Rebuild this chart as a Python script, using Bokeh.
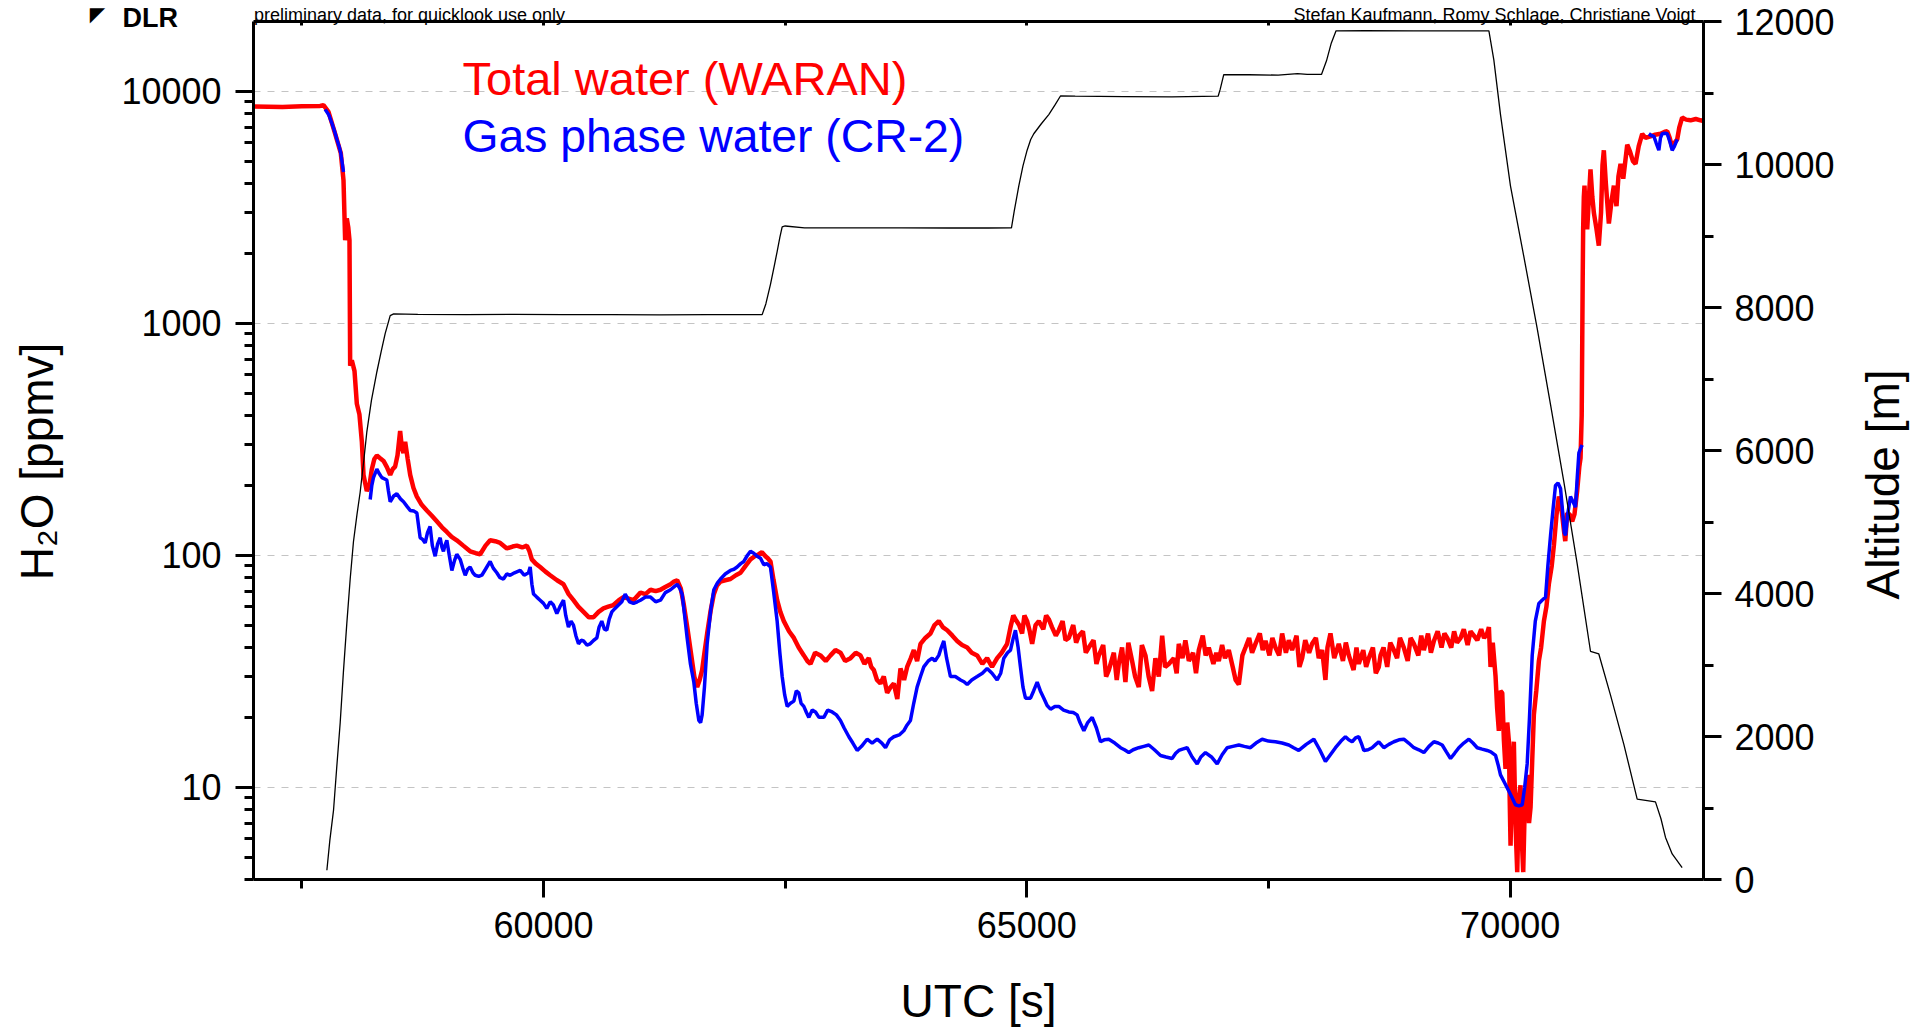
import math
from bokeh.plotting import figure
from bokeh.models import (Range1d, LinearAxis, LinearScale, FixedTicker, NumeralTickFormatter,
                          Label)
from bokeh.embed import file_html
from bokeh.resources import INLINE

# ---------------- data ----------------
red_x = [57000, 57300, 57500, 57690, 57724, 57776, 57845, 57903, 57931, 57948, 57965, 57980, 57993,
         58000, 58017, 58045, 58069, 58096, 58121, 58138, 58172, 58200, 58224, 58250, 58276, 58310,
         58345, 58380, 58414, 58440, 58465, 58490, 58517, 58535, 58552, 58569, 58595, 58621, 58655,
         58690, 58740, 58793, 58845, 58896, 58950, 59000, 59050, 59103, 59170, 59241, 59300, 59345,
         59400, 59448, 59500, 59552, 59621, 59680, 59724, 59780, 59828, 59855, 59879, 59920, 59965,
         60020, 60069, 60140, 60207, 60260, 60310, 60360, 60414, 60470, 60517, 60570, 60620, 60670,
         60724, 60780, 60827, 60880, 60931, 61003, 61055, 61107, 61160, 61210, 61260, 61314, 61350,
         61383, 61420, 61452, 61490, 61521, 61560, 61590, 61615, 61641, 61665, 61693, 61730, 61762,
         61795, 61831, 61880, 61934, 61990, 62038, 62090, 62141, 62185, 62227, 62260, 62296, 62320,
         62348, 62380, 62417, 62450, 62486, 62540, 62590, 62640, 62693, 62730, 62762, 62810, 62865,
         62920, 62969, 63020, 63072, 63120, 63176, 63230, 63279, 63320, 63365, 63390, 63417, 63450,
         63486, 63520, 63555, 63590, 63624, 63660, 63693, 63730, 63762, 63800, 63831, 63865, 63900,
         63950, 64003, 64045, 64089, 64130, 64176, 64230, 64279, 64330, 64383, 64430, 64486, 64540,
         64589, 64640, 64693, 64740, 64796, 64831, 64860, 64882, 64920, 64951, 64975, 65003, 65030,
         65055, 65090, 65124, 65170, 65200, 65227, 65260, 65300, 65331, 65370, 65400, 65434, 65480,
         65510, 65538, 65580, 65610, 65641, 65690, 65720, 65745, 65790, 65820, 65848, 65900, 65930,
         65951, 65985, 66020, 66050, 66089, 66120, 66158, 66190, 66227, 66260, 66296, 66330, 66365,
         66400, 66430, 66469, 66520, 66550, 66572, 66610, 66640, 66676, 66720, 66750, 66779, 66820,
         66850, 66882, 66930, 66960, 66986, 67020, 67050, 67089, 67130, 67160, 67193, 67230, 67262,
         67300, 67330, 67365, 67410, 67440, 67469, 67510, 67540, 67572, 67610, 67641, 67680, 67710,
         67744, 67790, 67820, 67848, 67880, 67920, 67951, 67990, 68020, 68055, 68089, 68110, 68141,
         68180, 68227, 68270, 68300, 68331, 68380, 68410, 68434, 68480, 68510, 68538, 68580, 68610,
         68641, 68659, 68690, 68728, 68760, 68797, 68830, 68860, 68900, 68940, 68970, 69004, 69050,
         69080, 69107, 69150, 69180, 69211, 69250, 69290, 69320, 69349, 69390, 69420, 69450, 69487,
         69520, 69560, 69590, 69625, 69660, 69700, 69730, 69762, 69780, 69797, 69820, 69849, 69865,
         69883, 69900, 69918, 69935, 69952, 69970, 69987, 69995, 70004, 70020, 70038, 70055, 70073,
         70090, 70107, 70120, 70135, 70150, 70176, 70195, 70211, 70228, 70245, 70270, 70297, 70320,
         70349, 70375, 70400, 70430, 70452, 70480, 70504, 70530, 70555, 70570, 70590, 70615, 70642,
         70665, 70693, 70715, 70728, 70740, 70745, 70750, 70755, 70762, 70769, 70780, 70797, 70815,
         70831, 70850, 70866, 70890, 70917, 70940, 70955, 70969, 70990, 71021, 71050, 71073, 71100,
         71120, 71142, 71170, 71211, 71240, 71270, 71297, 71330, 71366, 71400, 71452, 71500, 71556,
         71600, 71625, 71650, 71676, 71700, 71728, 71750, 71779, 71820, 71866, 71920, 71969, 72000]
red_y = [8600, 8560, 8620, 8650, 8720, 8150, 6560, 5420, 4140, 2280, 2830, 2600, 2280,
         656, 693, 622, 450, 404, 308, 222, 189, 200, 235, 260, 269, 262,
         255, 240, 222, 235, 241, 270, 343, 290, 276, 308, 260, 222, 195,
         179, 165, 156, 148, 140, 132, 126, 120, 116, 110, 104, 102, 101,
         110, 116, 115, 113, 107, 109, 110, 108, 110, 104, 96, 92, 89,
         85, 82, 78, 75, 68, 64, 60, 57, 54, 54, 57, 59, 60,
         61, 64, 66, 65, 64, 69, 68, 71, 70, 71, 73, 75, 77,
         78, 72, 61, 48, 39, 30, 27, 29, 32, 38, 46, 58, 68,
         74, 77, 78, 79, 82, 84, 90, 96, 99, 101, 103, 99, 97,
         94, 78, 64, 57, 52, 47, 44, 40, 37, 35, 34, 38, 37,
         35, 37, 39, 38, 35, 36, 38, 37, 34, 36, 33, 32, 29,
         28, 30, 25.5, 27, 28, 24, 32.5, 29, 33, 36, 39, 35, 41.5,
         44, 46, 50, 52, 49, 47.5, 45, 42.7, 41, 40, 38, 37, 34,
         36, 33, 36, 38, 41.5, 49, 55, 53, 50, 46, 55, 52, 47,
         41.5, 50, 52, 48, 55, 53, 49, 45, 47.5, 52, 43, 44, 50,
         42, 45, 47, 38, 40, 43, 34, 37, 41, 30, 32, 38, 29,
         34, 40, 28.4, 42, 35, 30, 27, 41, 37, 30, 26, 36, 30,
         45, 33, 34, 36, 31, 41.5, 36, 43, 35, 38, 31, 39, 45,
         37, 40, 34, 38, 35, 41, 36, 39, 33, 29, 27.7, 37, 40,
         44, 38, 41.5, 46, 39, 42.7, 37, 44, 40, 37, 46, 38, 43,
         39, 45, 33, 36, 43, 38, 41.5, 44, 36, 39, 29, 40, 46,
         36, 41.5, 35, 42, 37, 32, 40, 34, 39, 33, 36, 40, 31,
         33, 37, 40, 33, 42, 39, 36, 44, 40, 35, 44, 41.5, 37,
         45, 39, 46, 38, 42.7, 47, 40, 46, 44, 40, 47, 42, 44,
         48, 41, 47, 45, 43, 48, 44, 46, 49, 33, 42, 30, 22,
         17.5, 26, 25.5, 16, 12, 19, 15.7, 9, 5.6, 12, 15.7, 7, 4.3,
         9, 10.2, 6, 4.3, 8, 11.3, 7, 8.2, 13, 20.5, 26, 35, 40,
         52, 60, 75, 90, 110, 150, 179, 160, 129, 115, 152, 150, 140,
         150, 189, 240, 262, 400, 773, 1500, 2540, 3500, 3920, 3000, 2540, 3500,
         4610, 3500, 2990, 2600, 2160, 3000, 4800, 5570, 4000, 2690, 3400, 3920, 3200,
         4300, 4870, 4200, 5890, 5500, 5000, 4870, 5800, 6560, 6300, 6390, 6500, 6560,
         6700, 6730, 6300, 5730, 6000, 6210, 7000, 7710, 7550, 7500, 7600, 7500, 7450]

nan = float("nan")
blue_x = [57741, 57780, 57810, 57840, 57862, 57885, 57903, 57931, nan,
          58207, 58224, 58241, 58276, 58300, 58328, 58379, 58395, 58414, 58450, 58483, 58520, 58552,
          58590, 58621, 58660, 58690, 58724, 58750, 58776, 58800, 58827, 58850, 58879, 58905, 58931,
          58950, 58965, 58980, 59000, 59025, 59052, 59080, 59103, 59138, 59165, 59190, 59215, 59241,
          59270, 59293, 59330, 59362, 59400, 59448, 59480, 59517, 59550, 59586, 59620, 59655, 59700,
          59759, 59800, 59845, 59862, 59880, 59897, 59930, 59965, 60000, 60034, 60070, 60103, 60138,
          60170, 60207, 60230, 60258, 60285, 60310, 60335, 60362, 60390, 60414, 60450, 60483, 60520,
          60552, 60575, 60603, 60630, 60655, 60680, 60707, 60740, 60776, 60810, 60845, 60890, 60931,
          60970, 61003, 61055, 61107, 61160, 61210, 61260, 61314, 61350, 61383, 61410, 61434, 61460,
          61486, 61520, 61555, 61580, 61607, 61625, 61641, 61665, 61693, 61730, 61762, 61800, 61831,
          61880, 61934, 61970, 62003, 62040, 62072, 62110, 62141, 62175, 62210, 62245, 62279, 62310,
          62348, 62380, 62417, 62445, 62469, 62495, 62521, 62555, 62590, 62615, 62641, 62665, 62693,
          62720, 62745, 62780, 62814, 62850, 62900, 62940, 62986, 63030, 63072, 63110, 63159, 63200,
          63245, 63290, 63348, 63400, 63452, 63500, 63538, 63580, 63624, 63680, 63727, 63760, 63796,
          63830, 63865, 63900, 63934, 63980, 64021, 64050, 64089, 64115, 64141, 64170, 64210, 64260,
          64314, 64350, 64383, 64430, 64486, 64540, 64589, 64640, 64693, 64730, 64762, 64800, 64831,
          64860, 64882, 64910, 64934, 64960, 64986, 65038, 65070, 65107, 65140, 65176, 65210, 65245,
          65290, 65331, 65380, 65434, 65480, 65520, 65550, 65590, 65630, 65676, 65720, 65762, 65800,
          65848, 65910, 65969, 66010, 66055, 66100, 66158, 66210, 66262, 66320, 66383, 66440, 66503,
          66540, 66572, 66610, 66658, 66710, 66762, 66800, 66848, 66910, 66969, 67020, 67072, 67130,
          67193, 67250, 67313, 67370, 67434, 67500, 67572, 67640, 67710, 67760, 67813, 67890, 67969,
          68030, 68089, 68140, 68193, 68250, 68296, 68330, 68365, 68400, 68434, 68460, 68486, 68530,
          68572, 68610, 68641, 68693, 68745, 68797, 68850, 68900, 68950, 69004, 69055, 69107, 69160,
          69211, 69255, 69297, 69340, 69383, 69425, 69469, 69520, 69573, 69615, 69659, 69710, 69762,
          69800, 69849, 69875, 69900, 69945, 69987, 70020, 70055, 70090, 70125, 70150, 70176, 70200,
          70228, 70260, 70297, 70330, 70366, 70390, 70418, 70445, 70469, 70495, 70521, 70545, 70560,
          70573, 70595, 70624, 70650, 70676, 70695, 70711, 70730, 70745, nan,
          71435, 71460, 71487, 71510, 71538, 71555, 71573, 71600, 71625, 71650, 71676, 71700, 71728]
blue_y = [8360, 7900, 7310, 6700, 6210, 5800, 5420, 4490, nan,
          174, 200, 216, 235, 225, 216, 211, 190, 170, 180, 184, 175, 170,
          162, 156, 155, 152, 119, 117, 113, 125, 133, 110, 99, 112, 119,
          108, 104, 110, 116, 100, 86, 95, 101, 96, 88, 82, 87, 89,
          84, 82, 81, 82, 87, 94, 88, 84, 80, 79, 83, 82, 84,
          86, 82, 84, 89, 75, 68, 66, 64, 62, 59, 63, 61, 56,
          60, 64, 55, 49, 52, 50, 45, 41.5, 43, 42.7, 41, 41.5, 43,
          44, 49, 52, 48, 47.5, 53, 57, 59, 61, 63, 68, 63, 62,
          63, 64, 66, 66, 63, 64, 69, 71, 73, 75, 72, 68, 55,
          44, 34, 28.4, 23, 19.4, 19, 20.5, 27, 41.5, 58, 71, 76, 79,
          83, 86, 87, 89, 92, 94, 100, 104, 102, 99, 97, 91, 92,
          89, 70, 52, 38, 30, 25, 22.3, 23, 23.5, 26, 25.5, 23, 22.3,
          21, 20, 21.5, 21.1, 20, 20, 21.5, 21.1, 20.5, 19.4, 18, 16.5, 15.5,
          14.4, 15, 16.1, 15.5, 16.1, 15.5, 14.8, 16, 16.5, 16.8, 17.5, 18.5, 19.4,
          23, 27, 30, 33, 35, 36, 35, 37, 40, 42.7, 36, 30, 30,
          29, 28.5, 27.7, 29, 30, 31, 32.5, 31, 29, 31, 36, 38, 39,
          44, 47.5, 40, 33, 27, 24.2, 24.2, 26, 28.4, 26, 24.2, 22.5, 21.7,
          22.3, 22.3, 21.5, 21.1, 21, 20.5, 19, 17.5, 19, 20, 18, 15.7, 16,
          16.1, 15.5, 14.8, 14.5, 14.1, 14.5, 14.8, 15, 15.2, 14.5, 13.7, 13.5, 13.3,
          14, 14.4, 14.6, 14.8, 13.5, 12.6, 13.5, 14.1, 13.5, 12.6, 13.8, 14.8, 15,
          15.2, 15, 14.8, 15.5, 16.1, 15.8, 15.7, 15.5, 15.2, 14.8, 14.4, 15.3, 16.1,
          14.5, 12.9, 13.8, 14.8, 15.8, 16.5, 16, 15.7, 16.3, 16.5, 15.5, 14.4, 14.5,
          14.8, 15.3, 15.7, 14.8, 15.3, 15.7, 16, 16.1, 15.5, 14.8, 14.5, 14.1, 15,
          15.7, 15.5, 15.2, 14.2, 13.3, 14, 14.8, 15.5, 16.1, 15.5, 14.8, 14.6, 14.4,
          14.2, 13.7, 12.5, 11.3, 10.4, 9.6, 9, 8.4, 8.3, 8.4, 10, 12.6, 20,
          37, 52, 62, 64, 66, 90, 122, 160, 200, 205, 194, 150, 125,
          122, 150, 179, 170, 161, 220, 276, 290, 299, nan,
          6560, 6450, 6390, 6000, 5570, 6300, 6560, 6600, 6560, 6100, 5570, 5800, 6210]

alt_x = [57759, 57790, 57828, 57860, 57897, 57930, 57965, 58000, 58034, 58070, 58103, 58140, 58172,
         58220, 58276, 58320, 58362, 58414, 58450, 58700, 59200, 59700, 60200, 60700, 61200, 61700,
         62262, 62300, 62348, 62390, 62417, 62445, 62469, 62500, 62700, 63200, 63700, 64200, 64600,
         64841, 64870, 64917, 64960, 65003, 65040, 65072, 65150, 65227, 65290, 65348, 65500, 66000,
         66500, 66979, 67000, 67037, 67300, 67600, 67800, 67900, 68048, 68100, 68150, 68199, 68500,
         69000, 69500, 69780, 69831, 69900, 70003, 70142, 70279, 70418, 70555, 70693, 70831, 70917,
         71038, 71176, 71314, 71503, 71560, 71607, 71676, 71779]
alt_y = [129, 550, 971, 1550, 2196, 2900, 3575, 4200, 4724, 5100, 5413, 5850, 6256,
         6700, 7098, 7380, 7634, 7887, 7910, 7905, 7900, 7905, 7900, 7900, 7898, 7900,
         7900, 8050, 8324, 8600, 8783, 8980, 9128, 9140, 9115, 9113, 9113, 9112, 9112,
         9113, 9350, 9702, 9980, 10200, 10350, 10430, 10570, 10698, 10830, 10958, 10955, 10950,
         10945, 10955, 11050, 11257, 11255, 11250, 11270, 11260, 11260, 11450, 11700, 11870, 11872,
         11868, 11870, 11870, 11464, 10698, 9702, 8707, 7711, 6639, 5566, 4418, 3192, 3154,
         2579, 1890, 1124, 1086, 850, 588, 358, 167]

x_major = [60000, 65000, 70000]
x_minor = [57500, 62500, 67500]
y_major = [10, 100, 1000, 10000]
y_minor = [4, 5, 6, 7, 8, 9, 20, 30, 40, 50, 60, 70, 80, 90,
           200, 300, 400, 500, 600, 700, 800, 900,
           2000, 3000, 4000, 5000, 6000, 7000, 8000, 9000]
alt_major = [0, 2000, 4000, 6000, 8000, 10000, 12000]
alt_minor = [1000, 3000, 5000, 7000, 9000, 11000]

header_left = "preliminary data, for quicklook use only"
header_right = "Stefan Kaufmann, Romy Schlage, Christiane Voigt"

x_lim = (57000, 72000)
y_lim = (4, 20000)
alt_lim = (0, 12000)

# ---------------- layout ----------------
W, H = 1915, 1028
FL, FR, FT, FB = 253, 1703, 21, 879
FONT = "Liberation Sans"

def px_to_x(px):
    return x_lim[0] + (px - FL) * (x_lim[1] - x_lim[0]) / (FR - FL)

def py_to_alt(py):
    return alt_lim[0] + (FB - py) * (alt_lim[1] - alt_lim[0]) / (FB - FT)

p = figure(width=W, height=H, x_range=Range1d(*x_lim), y_range=Range1d(*y_lim),
           y_axis_type="log", output_backend="svg", toolbar_location=None,
           min_border_left=FL, min_border_right=W - FR, min_border_top=FT,
           min_border_bottom=H - FB, margin=(0, 0, 0, 0))
p.outline_line_color = None
p.background_fill_color = "white"
p.border_fill_color = "white"
p.extra_y_ranges = {"alt": Range1d(*alt_lim)}
p.extra_y_scales = {"alt": LinearScale()}


def style_axis(ax, label_size="36px", tick_out=18, minor_out=9, standoff=14):
    ax.axis_line_width = 3
    ax.axis_line_color = "black"
    ax.major_tick_line_width = 3
    ax.minor_tick_line_width = 3
    ax.major_tick_line_color = "black"
    ax.minor_tick_line_color = "black"
    ax.major_tick_out = tick_out
    ax.major_tick_in = 0
    ax.minor_tick_out = minor_out
    ax.minor_tick_in = 0
    ax.major_label_text_font = FONT
    ax.major_label_text_font_size = label_size
    ax.major_label_text_color = "black"
    ax.major_label_standoff = standoff
    ax.axis_label = None


# left (log) axis
yt = FixedTicker(ticks=y_major, minor_ticks=y_minor)
ya = p.yaxis[0]
ya.ticker = yt
ya.formatter = NumeralTickFormatter(format="0")
style_axis(ya)

# bottom axis
xt = FixedTicker(ticks=x_major, minor_ticks=x_minor)
xa = p.xaxis[0]
xa.ticker = xt
xa.formatter = NumeralTickFormatter(format="0")
style_axis(xa, tick_out=18, minor_out=9, standoff=14)

# top axis: frame line with small inner ticks, carries the two header lines as labels
hl_pos = round(px_to_x(FL + 156))
hr_pos = round(px_to_x(1698 - 204))
ta = LinearAxis(ticker=FixedTicker(ticks=[hl_pos, hr_pos], minor_ticks=x_major + x_minor))
style_axis(ta, label_size="18px", tick_out=0, minor_out=0, standoff=-3)
ta.major_tick_in = 0
ta.major_tick_line_color = None
ta.minor_tick_in = 4
ta.major_label_overrides = {hl_pos: header_left, hr_pos: header_right}
p.add_layout(ta, "above")

# right (altitude) axis
ra = LinearAxis(y_range_name="alt", ticker=FixedTicker(ticks=alt_major, minor_ticks=alt_minor),
                formatter=NumeralTickFormatter(format="0"))
style_axis(ra, tick_out=18, minor_out=10, standoff=13)
p.add_layout(ra, "right")

p.xgrid.visible = False
p.ygrid.ticker = yt
p.ygrid.grid_line_color = "#c4c4c4"
p.ygrid.grid_line_dash = "7 7"
p.ygrid.grid_line_width = 1

# ---------------- series ----------------
p.line(red_x, red_y, line_color="#ff0000", line_width=4.5)
p.line(blue_x, blue_y, line_color="#0000ff", line_width=3.5)
p.line(alt_x, alt_y, line_color="black", line_width=1.3, y_range_name="alt")

# ---------------- texts ----------------
def make_label(text, px, py, size, color="black", align="left", angle=0.0, style="normal",
               font=FONT):
    return Label(x=px_to_x(px), y=py_to_alt(py), y_range_name="alt", text=text,
                 text_font=font, text_font_size=size, text_color=color,
                 text_align=align, text_baseline="alphabetic", angle=angle,
                 text_font_style=style)

p.add_layout(make_label("Total water (WARAN)", 462, 78, "47px", color="#ff0000"))
p.add_layout(make_label("Gas phase water (CR-2)", 462, 135, "46.3px", color="#0000ff"))

p.add_layout(make_label("H\u2082O [ppmv]", 36, 461, "46px", align="center", angle=math.pi / 2), "left")
p.add_layout(make_label("DLR", 122, 17, "27px", style="bold"), "left")
p.add_layout(make_label("Altitude [m]", 1882, 484, "46px", align="center", angle=math.pi / 2), "right")
p.add_layout(make_label("\u25E4", 97, 13, "20px", align="center", font="DejaVu Sans"), "right")
p.add_layout(make_label("UTC [s]", 978, 1000, "46px", align="center"), "below")

open("out.html", "w").write(file_html(p, INLINE))
